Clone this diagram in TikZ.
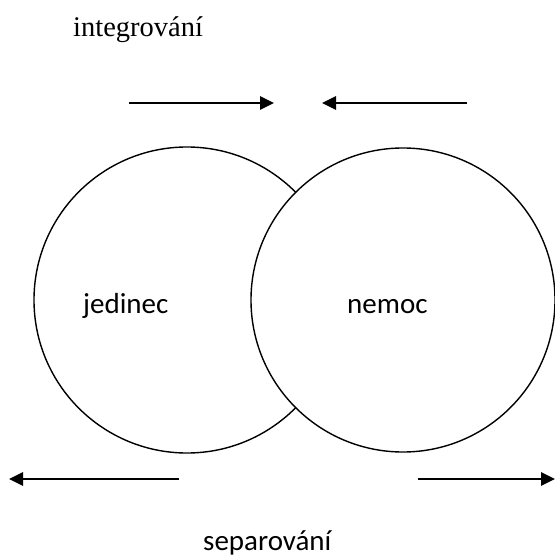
\documentclass[tikz,border=0pt]{standalone}
\usepackage{fontspec}
\setmainfont{Liberation Serif}
\newfontfamily\bodysans{Carlito}
\usetikzlibrary{arrows.meta}
\begin{document}
\begin{tikzpicture}[x=1bp,y=-1bp,
  ring/.style={circle,draw=black,line width=1.4bp,fill=white,inner sep=0pt,minimum size=#1},
  flow/.style={line width=2.6bp,-{Triangle[length=14bp,width=13bp]}},
  serifword/.style={anchor=base west,inner sep=0pt,font=\fontsize{28.5bp}{34bp}\selectfont},
  sansword/.style={anchor=base west,inner sep=0pt,font=\bodysans\fontsize{29bp}{34bp}\selectfont}]
  \useasboundingbox (0,0) rectangle (555,558);

  % the two overlapping circles, the right one on top
  \node[ring=306bp] (left) at (187,300) {};
  \node[ring=304bp] (right) at (403,300) {};

  % labels
  \node[serifword] (top) at (73,37) {integrování};
  \node[sansword] (jed) at (83,313) {jedinec};
  \node[sansword] (nem) at (347,313) {nemoc};
  \node[sansword] (sep) at (203,550) {separování};

  % arrow end points
  \coordinate (tlA) at (129,103);
  \coordinate (tlB) at (274,103);
  \coordinate (trA) at (467,103);
  \coordinate (trB) at (322,103);
  \coordinate (blA) at (179,479);
  \coordinate (blB) at (9,479);
  \coordinate (brA) at (418,479);
  \coordinate (brB) at (555,479);

  \draw[flow] (tlA) -- (tlB);
  \draw[flow] (trA) -- (trB);
  \draw[flow] (blA) -- (blB);
  \draw[flow] (brA) -- (brB);
\end{tikzpicture}
\end{document}
